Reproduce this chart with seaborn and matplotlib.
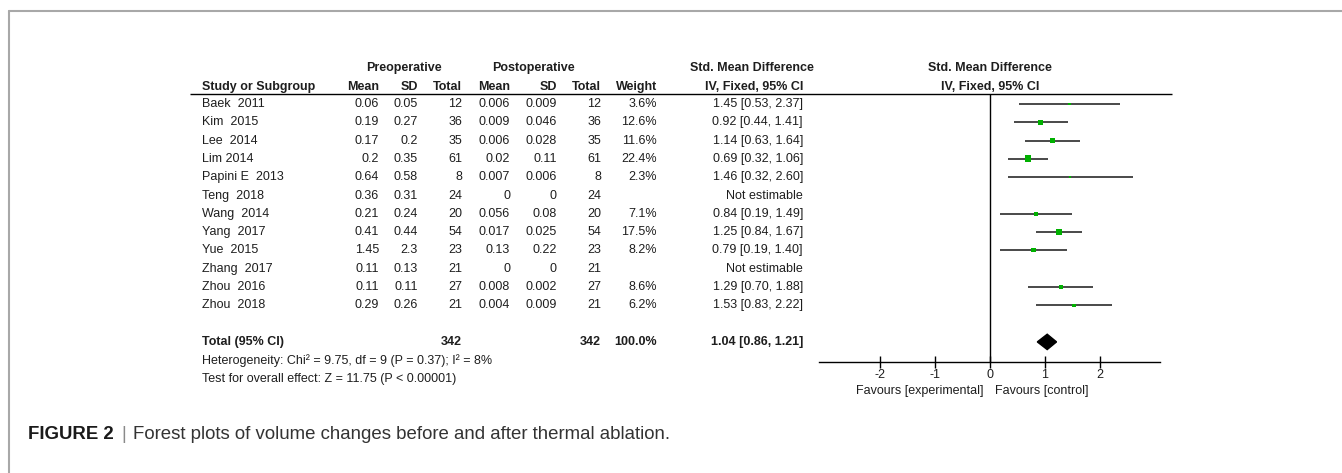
import numpy as np
import pandas as pd
import matplotlib
matplotlib.use("Agg")
import matplotlib.pyplot as plt
from matplotlib.lines import Line2D
import seaborn as sns

# ---------------- data ----------------
studies = ["Baek  2011", "Kim  2015", "Lee  2014", "Lim 2014", "Papini E  2013", "Teng  2018",
           "Wang  2014", "Yang  2017", "Yue  2015", "Zhang  2017", "Zhou  2016", "Zhou  2018"]
pre_mean = [0.06, 0.19, 0.17, 0.2, 0.64, 0.36, 0.21, 0.41, 1.45, 0.11, 0.11, 0.29]
pre_sd = [0.05, 0.27, 0.2, 0.35, 0.58, 0.31, 0.24, 0.44, 2.3, 0.13, 0.11, 0.26]
pre_n = [12, 36, 35, 61, 8, 24, 20, 54, 23, 21, 27, 21]
post_mean = [0.006, 0.009, 0.006, 0.02, 0.007, 0, 0.056, 0.017, 0.13, 0, 0.008, 0.004]
post_sd = [0.009, 0.046, 0.028, 0.11, 0.006, 0, 0.08, 0.025, 0.22, 0, 0.002, 0.009]
post_n = [12, 36, 35, 61, 8, 24, 20, 54, 23, 21, 27, 21]
weight = [3.6, 12.6, 11.6, 22.4, 2.3, np.nan, 7.1, 17.5, 8.2, np.nan, 8.6, 6.2]
smd = [1.45, 0.92, 1.14, 0.69, 1.46, np.nan, 0.84, 1.25, 0.79, np.nan, 1.29, 1.53]
ci_lo = [0.53, 0.44, 0.63, 0.32, 0.32, np.nan, 0.19, 0.84, 0.19, np.nan, 0.70, 0.83]
ci_hi = [2.37, 1.41, 1.64, 1.06, 2.60, np.nan, 1.49, 1.67, 1.40, np.nan, 1.88, 2.22]
total_pre_n = 342
total_post_n = 342
total_weight = 100.0
total_smd = 1.04
total_lo = 0.86
total_hi = 1.21
heterogeneity = "Heterogeneity: Chi\u00b2 = 9.75, df = 9 (P = 0.37); I\u00b2 = 8%"
overall = "Test for overall effect: Z = 11.75 (P < 0.00001)"
x_ticks = [-2, -1, 0, 1, 2]
x_tick_labels = ["-2", "-1", "0", "1", "2"]
favours_left = "Favours [experimental]"
favours_right = "Favours [control]"
caption_bold = "FIGURE 2"
caption_text = "Forest plots of volume changes before and after thermal ablation."

df = pd.DataFrame({"study": studies, "smd": smd, "lo": ci_lo, "hi": ci_hi, "weight": weight})
df["row"] = np.arange(len(df))
total_row = len(df) + 1

# ---------------- style ----------------
sns.set_theme(style="white")
plt.rcParams["font.family"] = ["Liberation Sans", "DejaVu Sans"]

W, H = 1342, 473
fig = plt.figure(figsize=(W / 100, H / 100), dpi=100)
fig.patch.set_facecolor("white")

FS = 9.0
TXT = "#1e1e1e"
ROW0, ROWH = 104.0, 18.3


def ry(i):
    return ROW0 + ROWH * i


# table axes in pixel coordinates
tab = fig.add_axes([0, 0, 1, 1])
tab.set_xlim(0, W)
tab.set_ylim(H, 0)
tab.axis("off")
tab.patch.set_alpha(0)

# frame (left and top only)
fig.add_artist(Line2D([9 / W, 9 / W], [0, 1 - 11 / H], color="#a8a8a8", lw=1.5))
fig.add_artist(Line2D([9 / W, 1], [1 - 11 / H, 1 - 11 / H], color="#a8a8a8", lw=1.5))

# column right edges
c_name = 202
c_m1, c_sd1, c_n1 = 379, 418, 462
c_m2, c_sd2, c_n2 = 510, 557, 601
c_w, c_ci = 657, 803
forest_center = 990

# header row 1
h1 = ry(-1.95)
tab.text((345 + c_n1) / 2, h1, "Preoperative", ha="center", va="center", fontsize=FS, weight="bold", color=TXT)
tab.text((465 + c_n2) / 2, h1, "Postoperative", ha="center", va="center", fontsize=FS, weight="bold", color=TXT)
tab.text((700 + c_ci) / 2, h1, "Std. Mean Difference", ha="center", va="center", fontsize=FS, weight="bold", color=TXT)
tab.text(forest_center, h1, "Std. Mean Difference", ha="center", va="center", fontsize=FS, weight="bold", color=TXT)

# header row 2
h2 = ry(-0.95)
tab.text(c_name, h2, "Study or Subgroup", ha="left", va="center", fontsize=FS, weight="bold", color=TXT)
for x, t in [(c_m1, "Mean"), (c_sd1, "SD"), (c_n1, "Total"), (c_m2, "Mean"), (c_sd2, "SD"),
             (c_n2, "Total"), (c_w, "Weight"), (c_ci, "IV, Fixed, 95% CI")]:
    tab.text(x, h2, t, ha="right", va="center", fontsize=FS, weight="bold", color=TXT)
tab.text(forest_center, h2, "IV, Fixed, 95% CI", ha="center", va="center", fontsize=FS, weight="bold", color=TXT)
tab.hlines(ry(-0.55), 190, 1172, color="black", lw=1.0)

# study rows
for i, r in df.iterrows():
    y = ry(r["row"])
    tab.text(c_name, y, r["study"], ha="left", va="center", fontsize=FS, color=TXT)
    vals = [(c_m1, f"{pre_mean[i]:g}"), (c_sd1, f"{pre_sd[i]:g}"), (c_n1, f"{pre_n[i]}"),
            (c_m2, f"{post_mean[i]:g}"), (c_sd2, f"{post_sd[i]:g}"), (c_n2, f"{post_n[i]}")]
    for x, t in vals:
        tab.text(x, y, t, ha="right", va="center", fontsize=FS, color=TXT)
    if np.isnan(r["smd"]):
        tab.text(c_ci, y, "Not estimable", ha="right", va="center", fontsize=FS, color=TXT)
    else:
        tab.text(c_w, y, f"{r['weight']:.1f}%", ha="right", va="center", fontsize=FS, color=TXT)
        tab.text(c_ci, y, f"{r['smd']:.2f} [{r['lo']:.2f}, {r['hi']:.2f}]", ha="right", va="center",
                 fontsize=FS, color=TXT)

# total row
yt = ry(total_row)
tab.text(c_name, yt, "Total (95% CI)", ha="left", va="center", fontsize=FS, weight="bold", color=TXT)
tab.text(c_n1, yt, f"{total_pre_n}", ha="right", va="center", fontsize=FS, weight="bold", color=TXT)
tab.text(c_n2, yt, f"{total_post_n}", ha="right", va="center", fontsize=FS, weight="bold", color=TXT)
tab.text(c_w, yt, f"{total_weight:.1f}%", ha="right", va="center", fontsize=FS, weight="bold", color=TXT)
tab.text(c_ci, yt, f"{total_smd:.2f} [{total_lo:.2f}, {total_hi:.2f}]", ha="right", va="center",
         fontsize=FS, weight="bold", color=TXT)
tab.text(c_name, ry(total_row + 1), heterogeneity, ha="left", va="center", fontsize=FS, color=TXT)
tab.text(c_name, ry(total_row + 2), overall, ha="left", va="center", fontsize=FS, color=TXT)

# favours labels
tab.text(forest_center - 7, 391, favours_left, ha="right", va="center", fontsize=FS, color=TXT)
tab.text(forest_center + 5, 391, favours_right, ha="left", va="center", fontsize=FS, color=TXT)

# ---------------- forest axes ----------------
ax_left, ax_right = 819.5, 1160.5
ax_top, ax_bottom = ry(-0.55), 362
fa = fig.add_axes([ax_left / W, 1 - ax_bottom / H, (ax_right - ax_left) / W, (ax_bottom - ax_top) / H])
fa.patch.set_alpha(0)
fa.set_xlim(-3.1, 3.1)
fa.set_ylim((ax_bottom - ROW0) / ROWH, (ax_top - ROW0) / ROWH)

d = df.dropna()
fa.hlines(d["row"], d["lo"], d["hi"], color="#2a2a2a", lw=1.2, zorder=2)
sns.scatterplot(data=d, x="smd", y="row", size="weight", sizes=(0, 24), size_norm=(0, 22.4),
                marker="s", color="#00b000", edgecolor="none", linewidth=0, legend=False, ax=fa, zorder=3)
# pooled diamond
dh = 0.42
fa.fill([total_lo, total_smd, total_hi, total_smd], [total_row, total_row - dh, total_row, total_row + dh],
        color="black", zorder=3)
fa.axvline(0, color="black", lw=1.0, zorder=1)

for s in ["top", "right", "left"]:
    fa.spines[s].set_visible(False)
fa.spines["bottom"].set_color("black")
fa.spines["bottom"].set_linewidth(1.0)
fa.set_xticks(x_ticks)
fa.set_xticklabels(x_tick_labels)
fa.set_yticks([])
fa.tick_params(axis="x", direction="inout", length=8, width=1, colors="black", labelsize=FS,
               labelcolor=TXT, pad=1, bottom=True)
fa.set_xlabel("")
fa.set_ylabel("")

# ---------------- caption ----------------
cap_family = ["Liberation Sans", "DejaVu Sans"]
cap_x0, cap_x1, cap_y = 28, 672, 434


def draw_caption(fs):
    fig.canvas.draw()
    rend = fig.canvas.get_renderer()
    t1 = tab.text(cap_x0, cap_y, caption_bold, ha="left", va="center", fontsize=fs, weight="bold",
                  color="#1a1a1a", family=cap_family)
    bb = t1.get_window_extent(rend)
    gap = fs * 0.55
    t2 = tab.text(bb.x1 + gap, cap_y, "|", ha="left", va="center", fontsize=fs, color="#8a8a8a",
                  family=cap_family)
    bb2 = t2.get_window_extent(rend)
    t3 = tab.text(bb2.x1 + gap, cap_y, caption_text, ha="left", va="center", fontsize=fs,
                  color="#333333", family=cap_family)
    bb3 = t3.get_window_extent(rend)
    return [t1, t2, t3], bb3.x1


base = 13.0
texts, xend = draw_caption(base)
for t in texts:
    t.remove()
fit = base * (cap_x1 - cap_x0) / (xend - cap_x0)
draw_caption(fit)

fig.savefig("out.png", dpi=100, facecolor="white")
